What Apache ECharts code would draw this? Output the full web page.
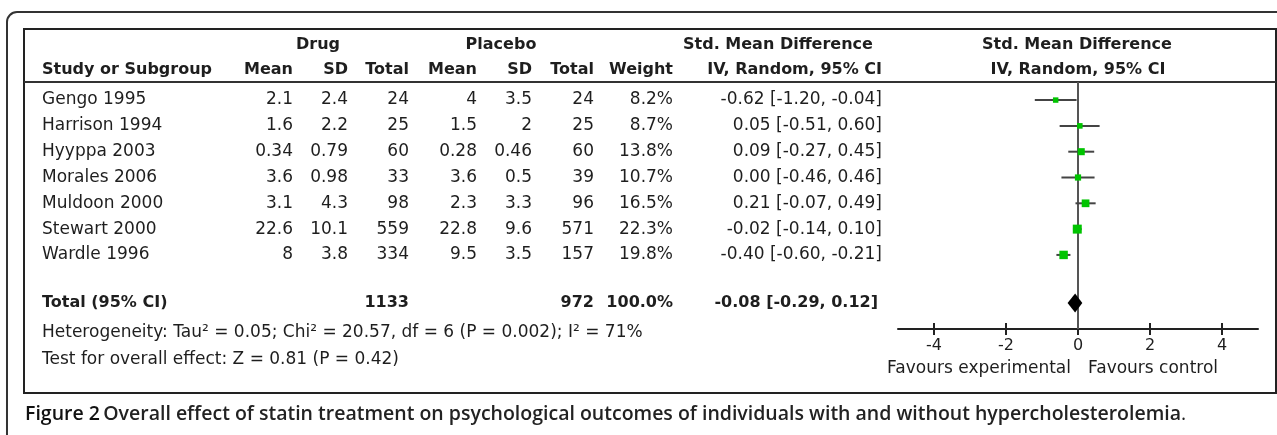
<!DOCTYPE html>
<html><head><meta charset="utf-8">
<script src="https://cdn.jsdelivr.net/npm/echarts@6/dist/echarts.min.js"></script>
<style>html,body{margin:0;padding:0;background:#fff}#c{width:1277px;height:435px}</style>
</head><body><div id="c"></div>
<script>
// ---------- data ----------
const studies = ['Gengo 1995','Harrison 1994','Hyyppa 2003','Morales 2006','Muldoon 2000','Stewart 2000','Wardle 1996'];
const drugMean = ['2.1','1.6','0.34','3.6','3.1','22.6','8'];
const drugSD = ['2.4','2.2','0.79','0.98','4.3','10.1','3.8'];
const drugTotal = [24,25,60,33,98,559,334];
const placMean = ['4','1.5','0.28','3.6','2.3','22.8','9.5'];
const placSD = ['3.5','2','0.46','0.5','3.3','9.6','3.5'];
const placTotal = [24,25,60,39,96,571,157];
const weights = [8.2,8.7,13.8,10.7,16.5,22.3,19.8];
const smd = [-0.62,0.05,0.09,0.00,0.21,-0.02,-0.40];
const ciLow = [-1.20,-0.51,-0.27,-0.46,-0.07,-0.14,-0.60];
const ciHigh = [-0.04,0.60,0.45,0.46,0.49,0.10,-0.21];
const totalLabel = 'Total (95% CI)';
const totalDrug = 1133, totalPlac = 972, totalWeight = 100.0;
const totalSMD = -0.08, totalLow = -0.29, totalHigh = 0.12;
const xTicks = [-4,-2,0,2,4];
const headTop = ['Drug','Placebo','Std. Mean Difference','Std. Mean Difference'];
const headCols = ['Study or Subgroup','Mean','SD','Total','Mean','SD','Total','Weight','IV, Random, 95% CI','IV, Random, 95% CI'];
const heterogeneityText = 'Heterogeneity: Tau\u00b2 = 0.05; Chi\u00b2 = 20.57, df = 6 (P = 0.002); I\u00b2 = 71%';
const overallText = 'Test for overall effect: Z = 0.81 (P = 0.42)';
const favoursLeft = 'Favours experimental', favoursRight = 'Favours control';
const captionLabel = 'Figure 2', captionTitle = 'Overall effect of statin treatment on psychological outcomes of individuals with and without hypercholesterolemia';

// ---------- layout ----------
const TEXT = '#1e1e1e';
const F = '17px "DejaVu Sans"';
const FB = 'bold 16px "DejaVu Sans"';
const FT = 'bold 16px "DejaVu Sans"';
const colStudy = 42;
const colRight = [293,348,409,477,532,594,673,882]; // right edges of numeric columns
const totalRowPos = 7.86;
const fmt2 = v => v.toFixed(2);
const ciText = (e,l,h) => fmt2(e) + ' [' + fmt2(l) + ', ' + fmt2(h) + ']';

const chart = echarts.init(document.getElementById('c'), null, {renderer:'canvas'});

function txt(x, y, s, align, font) {
  return {type:'text', x:x, y:y, silent:true, style:{text:s, font:font||F, fill:TEXT, textAlign:align||'left', textVerticalAlign:'middle'}};
}

const rowIdx = studies.map((s,i)=>[0,i]);

const option = {
  animation:false,
  grid:{left:898, width:360, top:82, height:247},
  xAxis:[
    {type:'value', min:-5, max:5, position:'bottom',
     axisLine:{show:true, onZero:false, lineStyle:{color:'#222', width:2}},
     axisTick:{show:true, customValues:xTicks, length:6, lineStyle:{color:'#222', width:2}},
     axisLabel:{show:true, customValues:xTicks, margin:9, color:TEXT, fontSize:16, fontFamily:'DejaVu Sans'},
     splitLine:{show:false}},
    {type:'value', min:-5, max:5, position:'bottom', gridIndex:0,
     axisLine:{show:false, onZero:false},
     axisTick:{show:true, inside:true, customValues:xTicks, length:6, lineStyle:{color:'#222', width:2}},
     axisLabel:{show:false}, splitLine:{show:false}}
  ],
  yAxis:{type:'value', inverse:true, min:-0.7, max:8.87, show:false},
  series:[
    { // zero line
      type:'line', xAxisIndex:0, data:[[0,-0.7],[0,8.87]], symbol:'none', silent:true,
      lineStyle:{color:'#555', width:2}, z:1
    },
    { // study CI and squares
      type:'custom', xAxisIndex:0, data:rowIdx, z:3, clip:false,
      renderItem:(params, api) => {
        const i = params.dataIndex;
        const p1 = api.coord([ciLow[i], i]);
        const p2 = api.coord([ciHigh[i], i]);
        const pc = api.coord([smd[i], i]);
        const s = 1.9*Math.sqrt(weights[i]);
        return {type:'group', children:[
          {type:'line', shape:{x1:p1[0], y1:p1[1], x2:p2[0], y2:p2[1]}, style:{stroke:'#444', lineWidth:2}},
          {type:'rect', shape:{x:pc[0]-s/2, y:pc[1]-s/2, width:s, height:s}, style:{fill:'#00c400'}}
        ]};
      }
    },
    { // pooled diamond
      type:'custom', xAxisIndex:0, data:[[totalSMD, totalRowPos]], z:3, clip:false,
      renderItem:(params, api) => {
        const c = api.coord([totalSMD, totalRowPos]);
        const l = api.coord([totalLow, totalRowPos]);
        const h = api.coord([totalHigh, totalRowPos]);
        const hh = 9.5;
        return {type:'polygon', shape:{points:[[l[0],c[1]],[c[0],c[1]-hh],[h[0],c[1]],[c[0],c[1]+hh]]}, style:{fill:'#000'}};
      }
    },
    { // table rows
      type:'custom', xAxisIndex:0, data:rowIdx, z:2, clip:false, silent:true,
      renderItem:(params, api) => {
        const i = params.dataIndex;
        const y = api.coord([0, i])[1];
        const vals = [drugMean[i], drugSD[i], String(drugTotal[i]), placMean[i], placSD[i], String(placTotal[i]), weights[i].toFixed(1)+'%', ciText(smd[i],ciLow[i],ciHigh[i])];
        const ch = [txt(colStudy, y, studies[i], 'left')];
        vals.forEach((v,k)=>ch.push(txt(colRight[k], y, v, 'right')));
        return {type:'group', children:ch};
      }
    },
    { // total row
      type:'custom', xAxisIndex:0, data:[[0,totalRowPos]], z:2, clip:false, silent:true,
      renderItem:(params, api) => {
        const y = api.coord([0, totalRowPos])[1];
        return {type:'group', children:[
          txt(colStudy, y, totalLabel, 'left', FT),
          txt(colRight[2], y, String(totalDrug), 'right', FT),
          txt(colRight[5], y, String(totalPlac), 'right', FT),
          txt(colRight[6], y, totalWeight.toFixed(1)+'%', 'right', FT),
          txt(878, y, ciText(totalSMD,totalLow,totalHigh), 'right', FT)
        ]};
      }
    }
  ],
  graphic:[
    {type:'rect', shape:{x:7, y:12, width:1300, height:460, r:10}, style:{fill:'none', stroke:'#333', lineWidth:2}, silent:true, z:-1},
    {type:'rect', shape:{x:24, y:29, width:1252, height:364}, style:{fill:'none', stroke:'#222', lineWidth:2}, silent:true, z:-1},
    {type:'line', shape:{x1:24, y1:82, x2:1276, y2:82}, style:{stroke:'#333', lineWidth:2}, silent:true},
    txt(318, 45, headTop[0], 'center', FB),
    txt(501, 45, headTop[1], 'center', FB),
    txt(778, 45, headTop[2], 'center', FB),
    txt(1077, 45, headTop[3], 'center', FB),
    txt(colStudy, 70, headCols[0], 'left', FB),
    txt(colRight[0], 70, headCols[1], 'right', FB),
    txt(colRight[1], 70, headCols[2], 'right', FB),
    txt(colRight[2], 70, headCols[3], 'right', FB),
    txt(colRight[3], 70, headCols[4], 'right', FB),
    txt(colRight[4], 70, headCols[5], 'right', FB),
    txt(colRight[5], 70, headCols[6], 'right', FB),
    txt(colRight[6], 70, headCols[7], 'right', FB),
    txt(colRight[7], 70, headCols[8], 'right', FB),
    txt(1078, 70, headCols[9], 'center', FB),
    txt(colStudy, 333, heterogeneityText, 'left'),
    txt(colStudy, 360, overallText, 'left'),
    txt(1071, 369, favoursLeft, 'right', '17px "DejaVu Sans"'),
    txt(1088, 369, favoursRight, 'left', '17px "DejaVu Sans"'),
    {type:'text', x:25, y:414, silent:true, style:{
      text:'{a|' + captionLabel + '} {b|' + captionTitle + '}{c|.}',
      textVerticalAlign:'middle',
      rich:{
        a:{fontFamily:'Open Sans', fontWeight:600, fontSize:19.5, fill:'#111'},
        b:{fontFamily:'Open Sans', fontWeight:600, fontSize:19.5, fill:'#222'},
        c:{fontFamily:'Open Sans', fontWeight:400, fontSize:19.5, fill:'#222'}
      }}}
  ]
};
chart.setOption(option);
</script></body></html>
